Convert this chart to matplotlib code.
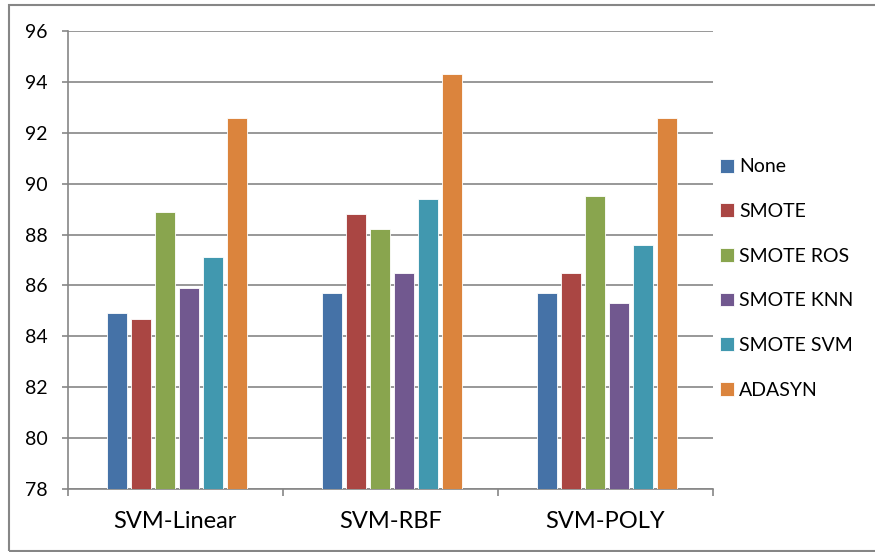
import matplotlib
matplotlib.use("Agg")
import matplotlib.pyplot as plt
import numpy as np
from matplotlib.patches import Rectangle

plt.rcParams['font.family'] = ['Lato', 'DejaVu Sans']

categories = ["SVM-Linear", "SVM-RBF", "SVM-POLY"]
series_names = ["None", "SMOTE", "SMOTE ROS", "SMOTE KNN", "SMOTE SVM", "ADASYN"]
none_vals = [84.9, 85.7, 85.7]
smote_vals = [84.7, 88.8, 86.5]
smote_ros_vals = [88.9, 88.2, 89.5]
smote_knn_vals = [85.9, 86.5, 85.3]
smote_svm_vals = [87.1, 89.4, 87.6]
adasyn_vals = [92.6, 94.3, 92.6]
yticks = [78, 80, 82, 84, 86, 88, 90, 92, 94, 96]

series = [none_vals, smote_vals, smote_ros_vals, smote_knn_vals, smote_svm_vals, adasyn_vals]
colors = ["#4572A7", "#AA4643", "#89A54E", "#71588F", "#4198AF", "#DB843D"]

fig = plt.figure(figsize=(8.75, 5.52), dpi=100)
ax = fig.add_axes([67.5/875, 1-489/552, (713-67.5)/875, (489-31)/552])

x = np.arange(len(categories))
slot = 0.667 / 6
for i, (vals, c, name) in enumerate(zip(series, colors, series_names)):
    offs = (i - 2.5) * slot + 0.008
    ax.bar(x + offs, np.array(vals) - 78, bottom=78, width=slot*0.84, color=c,
           label=name, zorder=3, edgecolor='white', linewidth=0.6)

ax.set_ylim(78, 96)
ax.set_xlim(-0.5, 2.5)
ax.set_yticks(yticks)
ax.set_yticklabels([str(t) for t in yticks], fontsize=14)
ax.yaxis.grid(True, color='#868686', linewidth=1.2, zorder=0)
ax.set_xticks(x)
ax.set_xticklabels(categories, fontsize=17)
ax.set_xticks([-0.5, 0.5, 1.5, 2.5], minor=True)
ax.tick_params(axis='x', which='major', length=0, pad=16)
ax.tick_params(axis='x', which='minor', length=5, color='#868686', width=1.2)
ax.tick_params(axis='y', length=4.3, color='#868686', width=1.2, pad=10)
for s in ['top', 'right']:
    ax.spines[s].set_visible(False)
for s in ['left', 'bottom']:
    ax.spines[s].set_color('#868686')
    ax.spines[s].set_linewidth(1.2)

leg = fig.legend(loc='upper left', bbox_to_anchor=(702/875, 1-141/552), frameon=False,
                 fontsize=14, handlelength=0.72, handleheight=0.72, handletextpad=0.3,
                 labelspacing=1.42)

fig.patches.append(Rectangle((9/875, 1.5/552), 880/875, 546/552, transform=fig.transFigure,
                             fill=False, edgecolor='#868686', linewidth=1.5, clip_on=False))

fig.savefig("out.png", dpi=100)
